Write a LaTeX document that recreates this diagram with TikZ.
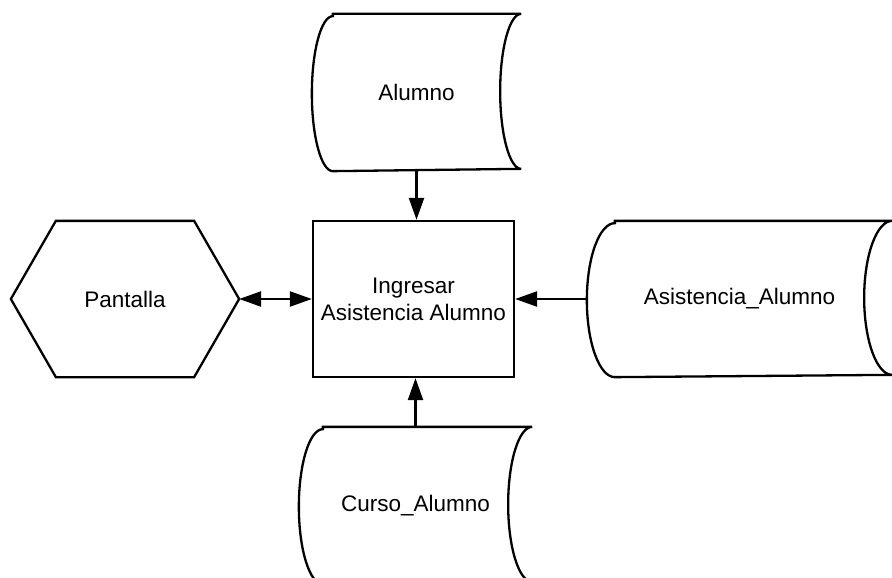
\documentclass[tikz,border=0pt]{standalone}
\usepackage{fontspec}
\setmainfont{Liberation Sans}
\usetikzlibrary{arrows.meta}

% Outline of a "stored data" symbol around a node:
% convex arc on the left, concave arc on the right.
% #1 node name, #2 horizontal arc radius, #3 half height
\newcommand\storedoutline[3]{%
  \draw ([xshift=#2]#1.north west) -- (#1.north east)
    arc[start angle=90, end angle=270, x radius=#2, y radius=#3]
    -- ([xshift=#2]#1.south west)
    arc[start angle=270, end angle=90, x radius=#2, y radius=#3]
    -- cycle;}

\begin{document}
\begin{tikzpicture}[x=1pt, y=-1pt, line width=2.3pt,
  every node/.style={font=\fontsize{22.5}{27}\selectfont, text=black},
  holder/.style={rectangle, inner sep=0pt, align=center},
  procbox/.style={rectangle, draw, inner sep=0pt, align=center},
  >={Triangle[length=22pt, width=15pt]}]
\useasboundingbox (0,0) rectangle (892,578);

% nodes
\node[procbox, minimum width=201pt, minimum height=156pt] (proc) at (413.5,299)
  {Ingresar\\Asistencia Alumno};
\node[holder, minimum width=207pt, minimum height=155pt] (alumno) at (416.5,92.5) {Alumno};
\node[holder, minimum width=231pt, minimum height=155pt] (curso) at (415.5,505.5) {Curso\_Alumno};
\node[holder, minimum width=303pt, minimum height=154pt] (asist) at (739.5,299) {Asistencia\_Alumno};
\node[holder, minimum width=226pt, minimum height=154pt] (pantalla) at (125,299) {Pantalla};

% outlines
\storedoutline{alumno}{21pt}{77.5pt}
\storedoutline{curso}{24pt}{77.5pt}
\storedoutline{asist}{28pt}{77pt}
\draw (pantalla.west) -- ([xshift=45pt]pantalla.north west) -- ([xshift=-45pt]pantalla.north east)
  -- (pantalla.east) -- ([xshift=-45pt]pantalla.south east) -- ([xshift=45pt]pantalla.south west) -- cycle;

% connectors
\draw[->] (alumno.south) -- (alumno.south |- proc.north);
\draw[->] (curso.north) -- (curso.north |- proc.south);
\draw[->] (asist.west) -- (proc.east);
\draw[<->] (pantalla.east) -- (proc.west);
\end{tikzpicture}
\end{document}
